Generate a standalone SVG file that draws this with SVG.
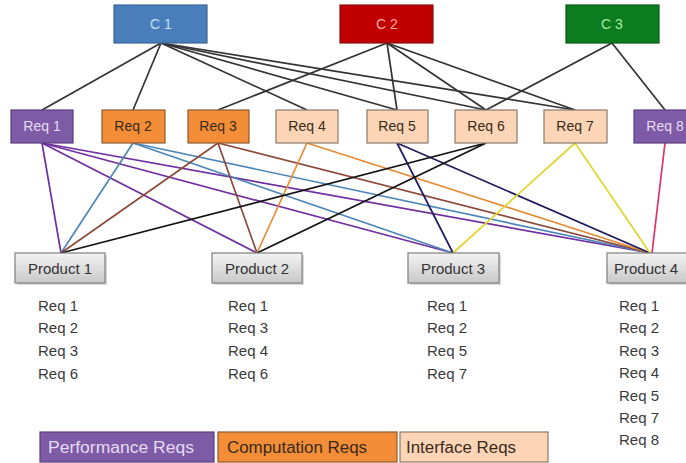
<svg xmlns="http://www.w3.org/2000/svg" width="686" height="463" viewBox="0 0 686 463">
  <defs>
    <linearGradient id="prodFill" x1="0" y1="0" x2="0" y2="1">
      <stop offset="0" stop-color="#f4f4f4"/>
      <stop offset="1" stop-color="#c8c8c8"/>
    </linearGradient>
    <style>
      text { font-family: "Liberation Sans", Arial, sans-serif; font-size: 14px; text-anchor: middle; dominant-baseline: central; }
      .c1 { fill: #4a7ebb; stroke: #3a6597; stroke-width: 1.2; }
      .c2 { fill: #c00000; stroke: #8a0f14; stroke-width: 1.2; }
      .c3 { fill: #0b7d1f; stroke: #075a16; stroke-width: 1.2; }
      .perf { fill: #7d5ba6; stroke: #5a3f7d; stroke-width: 1.2; }
      .comp { fill: #f38d37; stroke: #8c5a2e; stroke-width: 1.2; }
      .intf { fill: #fbd5b5; stroke: #8c7a6a; stroke-width: 1.2; }
      .prod { fill: url(#prodFill); stroke: #7f7f7f; stroke-width: 1.2; }
      .shadow { fill: #000; opacity: 0.15; }
      .tc1 { fill: #bfe2f7; }
      .tc2 { fill: #f7a7a7; }
      .tc3 { fill: #a6eea6; }
      .tperf { fill: #e6dcf2; }
      .tdark { fill: #3a2a1a; }
      .tprod { fill: #333; font-size: 15px; }
      .list { fill: #3a3a3a; font-size: 15px; text-anchor: start; }
      .leg { font-size: 16px; text-anchor: start; }
      .edge { fill: none; stroke-width: 1.7; }
      .top { stroke: #333; }
      .r1 { stroke: #7030a0; }
      .r2 { stroke: #4f86b8; }
      .r3 { stroke: #8b4a3a; }
      .r4 { stroke: #e58a35; }
      .r5 { stroke: #1e1c5c; }
      .r6 { stroke: #111; }
      .r7 { stroke: #e2d42e; }
      .r8 { stroke: #e0306e; }
    </style>
  </defs>

  <!-- connectors -->
  <g id="connectors">
    <!-- C1 -->
    <line class="edge top" x1="161" y1="43" x2="42" y2="110"/>
    <line class="edge top" x1="161" y1="43" x2="133" y2="110"/>
    <line class="edge top" x1="161" y1="43" x2="307" y2="110"/>
    <line class="edge top" x1="161" y1="43" x2="397" y2="110"/>
    <line class="edge top" x1="161" y1="43" x2="486" y2="110"/>
    <line class="edge top" x1="161" y1="43" x2="575" y2="110"/>
    <!-- C2 -->
    <line class="edge top" x1="387" y1="43" x2="218" y2="110"/>
    <line class="edge top" x1="387" y1="43" x2="397" y2="110"/>
    <line class="edge top" x1="387" y1="43" x2="486" y2="110"/>
    <line class="edge top" x1="387" y1="43" x2="575" y2="110"/>
    <!-- C3 -->
    <line class="edge top" x1="612" y1="43" x2="486" y2="110"/>
    <line class="edge top" x1="612" y1="43" x2="665" y2="110"/>

    <!-- Req 1 -->
    <line class="edge r1" x1="42" y1="143" x2="61" y2="253"/>
    <line class="edge r1" x1="42" y1="143" x2="257" y2="253"/>
    <line class="edge r1" x1="42" y1="143" x2="453" y2="253"/>
    <line class="edge r1" x1="42" y1="143" x2="650" y2="253"/>
    <!-- Req 2 -->
    <line class="edge r2" x1="133" y1="143" x2="61" y2="253"/>
    <line class="edge r2" x1="133" y1="143" x2="453" y2="253"/>
    <line class="edge r2" x1="133" y1="143" x2="650" y2="253"/>
    <!-- Req 3 -->
    <line class="edge r3" x1="218" y1="143" x2="61" y2="253"/>
    <line class="edge r3" x1="218" y1="143" x2="257" y2="253"/>
    <line class="edge r3" x1="218" y1="143" x2="650" y2="253"/>
    <!-- Req 4 -->
    <line class="edge r4" x1="307" y1="143" x2="257" y2="253"/>
    <line class="edge r4" x1="307" y1="143" x2="650" y2="253"/>
    <!-- Req 5 -->
    <line class="edge r5" x1="397" y1="143" x2="453" y2="253"/>
    <line class="edge r5" x1="397" y1="143" x2="650" y2="253"/>
    <!-- Req 6 -->
    <line class="edge r6" x1="486" y1="143" x2="61" y2="253"/>
    <line class="edge r6" x1="486" y1="143" x2="257" y2="253"/>
    <!-- Req 7 -->
    <line class="edge r7" x1="575" y1="143" x2="453" y2="253"/>
    <line class="edge r7" x1="575" y1="143" x2="650" y2="253"/>
    <!-- Req 8 -->
    <line class="edge r8" x1="665" y1="143" x2="652" y2="253"/>
  </g>

  <!-- criteria -->
  <g id="c1"><rect class="c1" x="114" y="5" width="93" height="38"/><text class="tc1" x="161" y="24">C 1</text></g>
  <g id="c2"><rect class="c2" x="340" y="5" width="93" height="38"/><text class="tc2" x="387" y="24">C 2</text></g>
  <g id="c3"><rect class="c3" x="566" y="5" width="93" height="38"/><text class="tc3" x="612" y="24">C 3</text></g>

  <!-- requirements -->
  <g id="req1"><rect class="perf" x="11" y="110" width="62" height="33"/><text class="tperf" x="42" y="126">Req 1</text></g>
  <g id="req2"><rect class="comp" x="102" y="110" width="63" height="33"/><text class="tdark" x="133" y="126">Req 2</text></g>
  <g id="req3"><rect class="comp" x="188" y="110" width="61" height="33"/><text class="tdark" x="218" y="126">Req 3</text></g>
  <g id="req4"><rect class="intf" x="276" y="110" width="62" height="33"/><text class="tdark" x="307" y="126">Req 4</text></g>
  <g id="req5"><rect class="intf" x="367" y="110" width="61" height="33"/><text class="tdark" x="397" y="126">Req 5</text></g>
  <g id="req6"><rect class="intf" x="455" y="110" width="62" height="33"/><text class="tdark" x="486" y="126">Req 6</text></g>
  <g id="req7"><rect class="intf" x="544" y="110" width="63" height="33"/><text class="tdark" x="575" y="126">Req 7</text></g>
  <g id="req8"><rect class="perf" x="634" y="110" width="62" height="33"/><text class="tperf" x="665" y="126">Req 8</text></g>

  <!-- products -->
  <g id="product1">
    <rect class="shadow" x="17" y="255" width="90" height="30"/>
    <rect class="prod" x="15" y="253" width="90" height="30"/>
    <text class="tprod" x="60" y="268">Product 1</text>
    <text class="list" x="38" y="305">Req 1</text>
    <text class="list" x="38" y="327">Req 2</text>
    <text class="list" x="38" y="350">Req 3</text>
    <text class="list" x="38" y="373">Req 6</text>
  </g>
  <g id="product2">
    <rect class="shadow" x="214" y="255" width="90" height="30"/>
    <rect class="prod" x="212" y="253" width="90" height="30"/>
    <text class="tprod" x="257" y="268">Product 2</text>
    <text class="list" x="228" y="305">Req 1</text>
    <text class="list" x="228" y="327">Req 3</text>
    <text class="list" x="228" y="350">Req 4</text>
    <text class="list" x="228" y="373">Req 6</text>
  </g>
  <g id="product3">
    <rect class="shadow" x="410" y="255" width="91" height="30"/>
    <rect class="prod" x="408" y="253" width="91" height="30"/>
    <text class="tprod" x="453" y="268">Product 3</text>
    <text class="list" x="427" y="305">Req 1</text>
    <text class="list" x="427" y="327">Req 2</text>
    <text class="list" x="427" y="350">Req 5</text>
    <text class="list" x="427" y="373">Req 7</text>
  </g>
  <g id="product4">
    <rect class="shadow" x="609" y="255" width="90" height="30"/>
    <rect class="prod" x="607" y="253" width="90" height="30"/>
    <text class="tprod" x="614" y="268" style="text-anchor:start">Product 4</text>
    <text class="list" x="619" y="305">Req 1</text>
    <text class="list" x="619" y="327">Req 2</text>
    <text class="list" x="619" y="350">Req 3</text>
    <text class="list" x="619" y="372">Req 4</text>
    <text class="list" x="619" y="395">Req 5</text>
    <text class="list" x="619" y="417">Req 7</text>
    <text class="list" x="619" y="439">Req 8</text>
  </g>

  <!-- legend -->
  <g id="legend">
    <rect class="perf" x="40" y="432" width="174" height="30"/>
    <text class="tperf leg" x="48" y="447" textLength="146" lengthAdjust="spacingAndGlyphs">Performance Reqs</text>
    <rect class="comp" x="218" y="432" width="179" height="30"/>
    <text class="tdark leg" x="227" y="447" textLength="140" lengthAdjust="spacingAndGlyphs">Computation Reqs</text>
    <rect class="intf" x="400" y="432" width="148" height="30"/>
    <text class="tdark leg" x="406" y="447" textLength="110" lengthAdjust="spacingAndGlyphs">Interface Reqs</text>
  </g>
</svg>
